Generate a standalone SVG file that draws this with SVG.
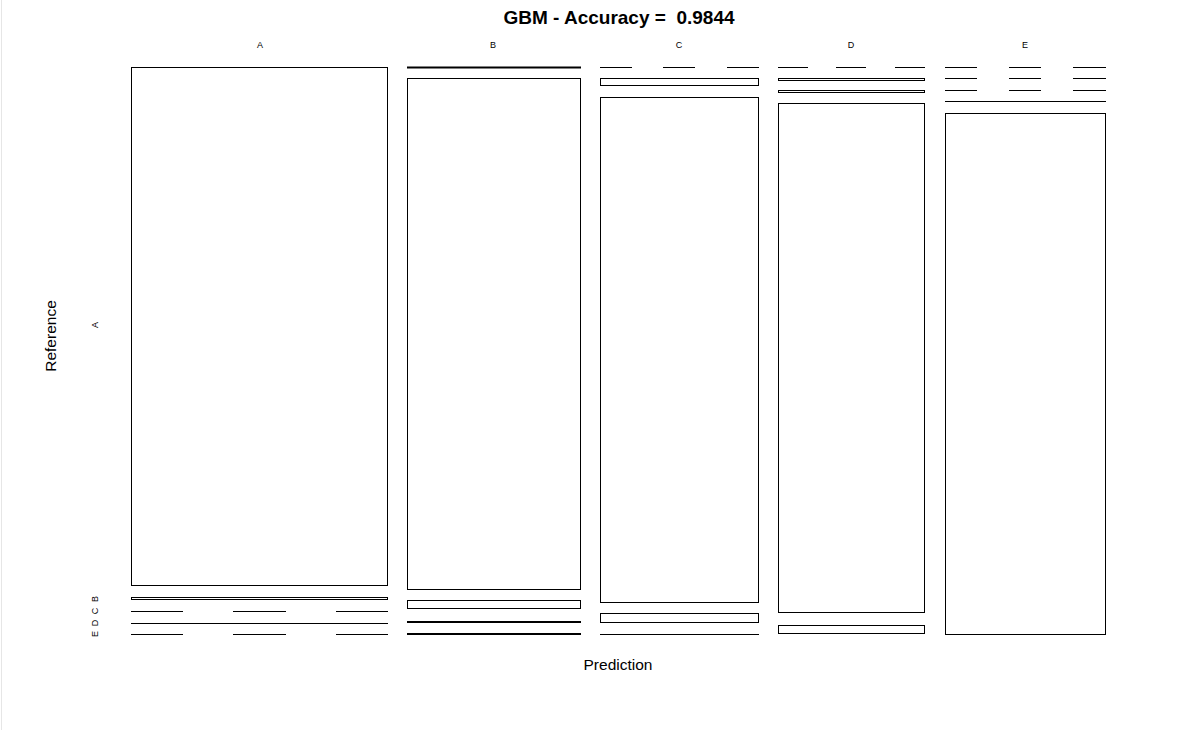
<svg xmlns="http://www.w3.org/2000/svg" width="1198" height="730" viewBox="0 0 1198 730">
<style>
.c{fill:#fff;stroke:#000;stroke-width:1}
.z{fill:none;stroke:#000;stroke-width:1}
.t{font-family:"Liberation Sans",Arial,sans-serif;fill:#000}
.lab{font-size:9px}
</style>
<rect x="0" y="0" width="1198" height="730" fill="#fff"/>
<line x1="1.5" y1="0" x2="1.5" y2="730" stroke="#e6e6e6" stroke-width="1"/>
<text class="t" x="619" y="24" font-size="19" font-weight="bold" text-anchor="middle">GBM - Accuracy =&#160; 0.9844</text>
<g id="top-labels">
<text class="t lab" x="260" y="48" text-anchor="middle">A</text>
<text class="t lab" x="493" y="48" text-anchor="middle">B</text>
<text class="t lab" x="679" y="48" text-anchor="middle">C</text>
<text class="t lab" x="851" y="48" text-anchor="middle">D</text>
<text class="t lab" x="1025" y="48" text-anchor="middle">E</text>
</g>
<g id="left-labels">
<text class="t lab" transform="translate(98,325) rotate(-90)" text-anchor="middle">A</text>
<text class="t lab" transform="translate(98,599) rotate(-90)" text-anchor="middle">B</text>
<text class="t lab" transform="translate(98,611) rotate(-90)" text-anchor="middle">C</text>
<text class="t lab" transform="translate(98,623) rotate(-90)" text-anchor="middle">D</text>
<text class="t lab" transform="translate(98,634) rotate(-90)" text-anchor="middle">E</text>
</g>
<text class="t" x="618" y="670" font-size="15.5" text-anchor="middle">Prediction</text>
<text class="t" transform="translate(56,336) rotate(-90)" font-size="15.5" text-anchor="middle">Reference</text>
<g id="colA">
<rect class="c" x="131.5" y="67.5" width="256" height="518"/>
<rect class="c" x="131.5" y="597.5" width="256" height="2"/>
<path class="z" d="M131 611.5H183M233 611.5H286M336 611.5H388"/>
<path class="z" d="M131 623.5H388" stroke="#666"/>
<path class="z" d="M131 634.5H183M233 634.5H286M336 634.5H388"/>
</g>
<g id="colB">
<rect class="c" x="407.5" y="67" width="173" height="1"/>
<rect class="c" x="407.5" y="78.5" width="173" height="511"/>
<rect class="c" x="407.5" y="600.5" width="173" height="8"/>
<rect class="c" x="407.5" y="621.5" width="173" height="1"/>
<rect class="c" x="407.5" y="633.5" width="173" height="1"/>
</g>
<g id="colC">
<path class="z" d="M600 67.5H632M663 67.5H695M727 67.5H759"/>
<rect class="c" x="600.5" y="78.5" width="158" height="7"/>
<rect class="c" x="600.5" y="97.5" width="158" height="505"/>
<rect class="c" x="600.5" y="613.5" width="158" height="9"/>
<path class="z" d="M600 634.5H759"/>
</g>
<g id="colD">
<path class="z" d="M778 67.5H808M836 67.5H866M895 67.5H925"/>
<rect class="c" x="778.5" y="78.5" width="146" height="2"/>
<rect class="c" x="778.5" y="90.5" width="146" height="2"/>
<rect class="c" x="778.5" y="103.5" width="146" height="509"/>
<rect class="c" x="778.5" y="625.5" width="146" height="8"/>
</g>
<g id="colE">
<path class="z" d="M945 67.5H977M1009 67.5H1041M1073 67.5H1106"/>
<path class="z" d="M945 78.5H977M1009 78.5H1041M1073 78.5H1106"/>
<path class="z" d="M945 90.5H977M1009 90.5H1041M1073 90.5H1106"/>
<path class="z" d="M945 101.5H1106"/>
<rect class="c" x="945.5" y="113.5" width="160" height="521"/>
</g>
</svg>
